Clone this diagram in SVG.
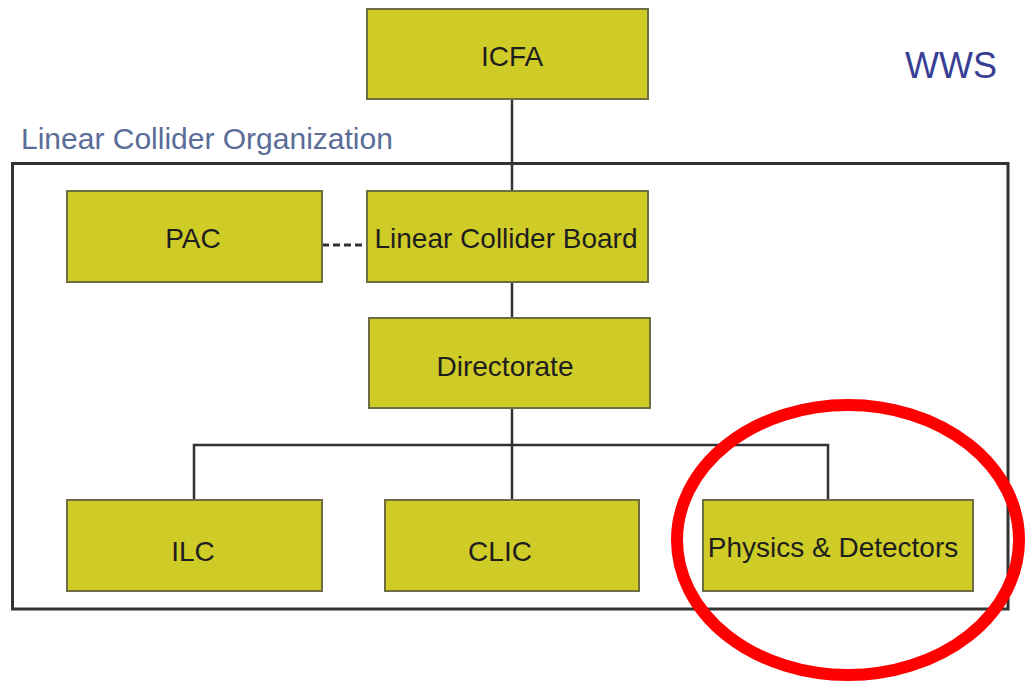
<svg xmlns="http://www.w3.org/2000/svg" width="1026" height="681" viewBox="0 0 1026 681">
<style>
.box{fill:#cfcc28;stroke:#6e6e40;stroke-width:2}
.lbl{font-family:"Liberation Sans",Arial,sans-serif;font-size:28px;fill:#1e1e1e;text-anchor:middle}
.ln{stroke:#333;stroke-width:2.5;fill:none}
</style>
<rect width="1026" height="681" fill="#fff"/>
<text x="905" y="78" font-family="Liberation Sans,Arial,sans-serif" font-size="36" fill="#3a3f96">WWS</text>
<text x="21" y="149" font-family="Liberation Sans,Arial,sans-serif" font-size="30" fill="#5a6c98">Linear Collider Organization</text>
<rect id="frame" x="12.5" y="163.5" width="995.5" height="445.5" fill="none" stroke="#333" stroke-width="3"/>
<g id="connectors">
<line class="ln" x1="512" y1="99" x2="512" y2="191"/>
<line class="ln" x1="512" y1="282" x2="512" y2="318"/>
<line class="ln" x1="512" y1="408" x2="512" y2="500"/>
<polyline class="ln" points="194,500 194,445 828,445 828,500"/>
<line x1="322" y1="245" x2="367" y2="245" stroke="#333" stroke-width="3" stroke-dasharray="7,4"/>
</g>
<g id="icfa"><rect class="box" x="367" y="9" width="281" height="90"/><text class="lbl" x="512" y="66">ICFA</text></g>
<g id="pac"><rect class="box" x="67" y="191" width="255" height="91"/><text class="lbl" x="193" y="248">PAC</text></g>
<g id="lcb"><rect class="box" x="367" y="191" width="281" height="91"/><text class="lbl" x="506" y="248" font-size="26.5">Linear Collider Board</text></g>
<g id="directorate"><rect class="box" x="369" y="318" width="281" height="90"/><text class="lbl" x="505" y="376">Directorate</text></g>
<g id="ilc"><rect class="box" x="67" y="500" width="255" height="91"/><text class="lbl" x="193" y="561">ILC</text></g>
<g id="clic"><rect class="box" x="385" y="500" width="254" height="91"/><text class="lbl" x="500" y="561">CLIC</text></g>
<g id="pd"><rect class="box" x="703" y="500" width="270" height="91"/><text class="lbl" x="833" y="557" font-size="25.5">Physics &amp; Detectors</text></g>
<ellipse id="highlight" cx="848" cy="540" rx="171" ry="135" fill="none" stroke="#ff0000" stroke-width="12"/>
</svg>
